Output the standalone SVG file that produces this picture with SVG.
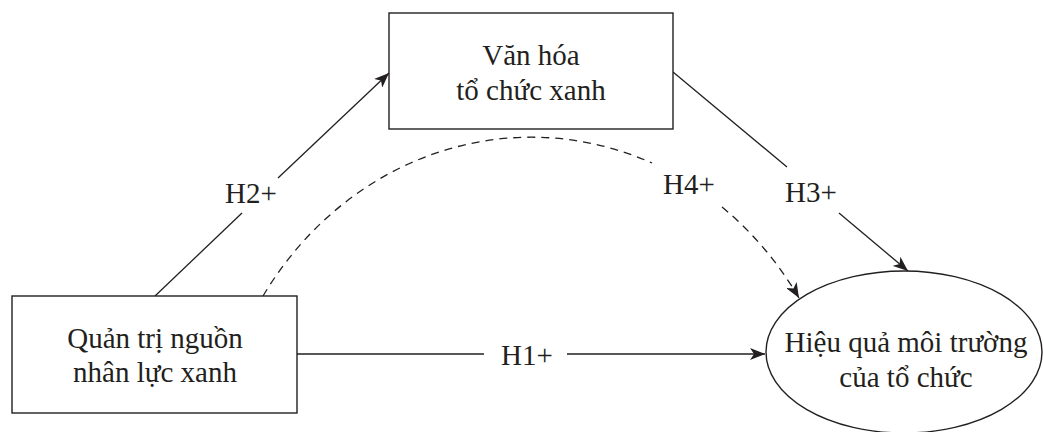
<svg xmlns="http://www.w3.org/2000/svg" width="1043" height="432" viewBox="0 0 1043 432">
<style>
.box{fill:#fff;stroke:#231f20;stroke-width:1.4}
.t{font-family:"Liberation Serif","Times New Roman",serif;font-size:29px;fill:#231f20;text-anchor:middle}
.ln{fill:none;stroke:#231f20;stroke-width:1.3}
.dash{stroke-dasharray:8 6}
</style>
<defs>
<marker id="ah" markerUnits="userSpaceOnUse" markerWidth="16" markerHeight="12" viewBox="0 0 16 12" refX="15" refY="6" orient="auto">
<path d="M0,0 L15,6 L0,12 L4,6 Z" fill="#231f20"/>
</marker>
</defs>
<rect width="1043" height="432" fill="#fff"/>
<g id="connectors">
<g id="h1">
<path class="ln" d="M297,354 L484,354"/>
<path class="ln" d="M567,354 L765,354" marker-end="url(#ah)"/>
<text class="t" x="527" y="365">H1+</text>
</g>
<g id="h2">
<path class="ln" d="M155,296 L242,213"/>
<path class="ln" d="M278,178 L389,73" marker-end="url(#ah)"/>
<text class="t" x="251" y="203">H2+</text>
</g>
<g id="h3">
<path class="ln" d="M673,72 L787,167"/>
<path class="ln" d="M839,213 L908,271" marker-end="url(#ah)"/>
<text class="t" x="811" y="202">H3+</text>
</g>
<g id="h4">
<path class="ln dash" d="M263,296 A320,349 0 0 1 652,163"/>
<path class="ln dash" d="M722,207 A320,349 0 0 1 799,298" marker-end="url(#ah)"/>
<text class="t" x="689" y="194">H4+</text>
</g>
</g>
<g id="node-vanhoa">
<rect class="box" x="389" y="13" width="284" height="116"/>
<text class="t" x="531" y="65">Văn hóa</text>
<text class="t" x="531" y="100">tổ chức xanh</text>
</g>
<g id="node-quantri">
<rect class="box" x="12" y="296" width="285" height="117"/>
<text class="t" x="155" y="348">Quản trị nguồn</text>
<text class="t" x="155" y="382">nhân lực xanh</text>
</g>
<g id="node-hieuqua">
<ellipse class="box" cx="904" cy="352" rx="138" ry="81"/>
<text class="t" x="906" y="352">Hiệu quả môi trường</text>
<text class="t" x="906" y="387">của tổ chức</text>
</g>
</svg>
